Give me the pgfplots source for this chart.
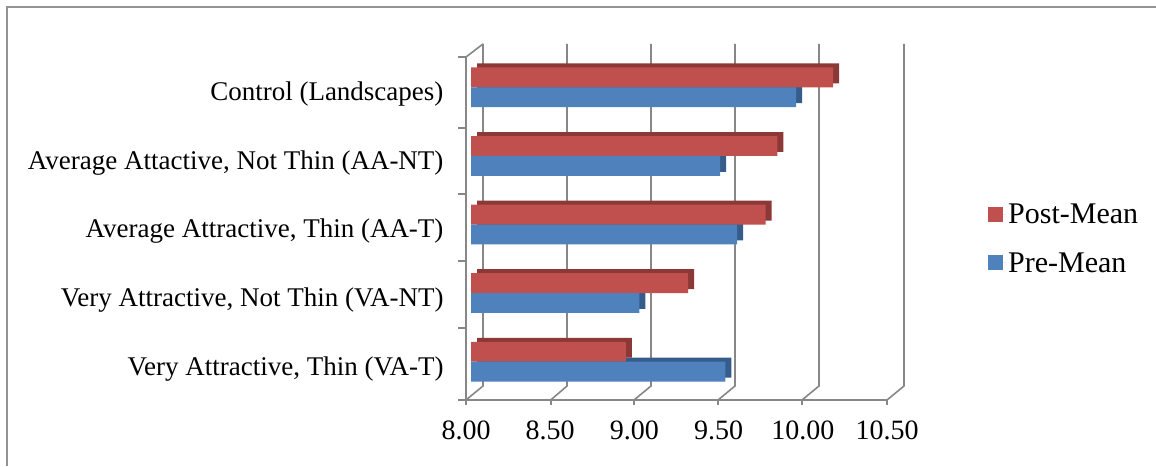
\documentclass[border=0pt]{standalone}
\usepackage{fontspec}
\setmainfont{Liberation Serif}
\usepackage{pgfplots}
\pgfplotsset{compat=1.18}
\definecolor{redF}{HTML}{C0504D}
\definecolor{redD}{HTML}{8C3836}
\definecolor{bluF}{HTML}{4F81BD}
\definecolor{bluD}{HTML}{365C8C}
\definecolor{gridc}{HTML}{878787}
\newcommand{\tickf}{\fontsize{28}{32}\selectfont}
\newcommand{\catf}{\fontsize{27}{32}\selectfont}
\newcommand{\legf}{\fontsize{30}{34}\selectfont}
\begin{document}
\begin{tikzpicture}[x=1pt,y=1pt]
\useasboundingbox (0,0) rectangle (1156,466);
\fill[white] (0,0) rectangle (1156,466);
\draw[gray!85, line width=2pt] (7,0) -- (7,459) -- (1156,459);
\begin{scope}[draw=gridc, line width=1.6pt]
  \draw (466,66) -- (887,66);
  \foreach \xf/\xb in {466/483, 550.7/567, 634/651, 718/735, 802/819, 887/904}{
    \draw (\xf,66) -- (\xf,61);
    \draw (\xf,66) -- (\xb,80) -- (\xb,422);
  }
  \draw (466,66) -- (466,409) -- (483,422);
  \foreach \py in {57,128,194,261,328,400}{
    \draw (458,466-\py) -- (466,466-\py);
  }
\end{scope}
\begin{axis}[
  at={(471pt,70pt)}, anchor=south west,
  scale only axis, width=421pt, height=343pt,
  xmin=8, xmax=10.5, ymin=-0.5, ymax=4.5,
  axis line style={draw=none}, tick style={draw=none},
  xtick={8,8.5,9,9.5,10,10.5},
  xticklabels={8.00,8.50,9.00,9.50,10.00,10.50},
  ytick={0,1,2,3,4},
  yticklabels={{Very Attractive, Thin (VA-T)},{Very Attractive, Not Thin (VA-NT)},{Average Attractive, Thin (AA-T)},{Average Attactive, Not Thin (AA-NT)},{Control (Landscapes)}},
  xticklabel style={font=\tickf, xshift=-5pt, yshift=-21pt},
  yticklabel style={font=\catf, xshift=-24pt, yshift=-7pt},
  /pgf/number format/assume math mode=true,
  legend style={draw=none, fill=none, font=\legf, at={(1.228,0.458)}, anchor=west, row sep=23pt, inner sep=0pt},
  legend cell align=left,
  legend image code/.code={\fill[#1] (0pt,-7.5pt) rectangle (15pt,7.5pt); \path (0pt,0pt) -- (18pt,0pt);},
]
\addplot[xbar, bar width=0.29, bar shift=-0.145, fill=bluD, draw=none, xshift=6pt, yshift=4pt, forget plot]
  coordinates {(9.51,0) (9.00,1) (9.58,2) (9.48,3) (9.93,4)};
\addplot[xbar, bar width=0.29, bar shift=0.145, fill=redD, draw=none, xshift=6pt, yshift=4pt, forget plot]
  coordinates {(8.92,0) (9.29,1) (9.75,2) (9.82,3) (10.15,4)};
\addplot[xbar, bar width=0.29, bar shift=0.145, fill=redF, draw=none]
  coordinates {(8.92,0) (9.29,1) (9.75,2) (9.82,3) (10.15,4)};
\addplot[xbar, bar width=0.29, bar shift=-0.145, fill=bluF, draw=none]
  coordinates {(9.51,0) (9.00,1) (9.58,2) (9.48,3) (9.93,4)};
\legend{Post-Mean,Pre-Mean}
\end{axis}
\end{tikzpicture}
\end{document}
